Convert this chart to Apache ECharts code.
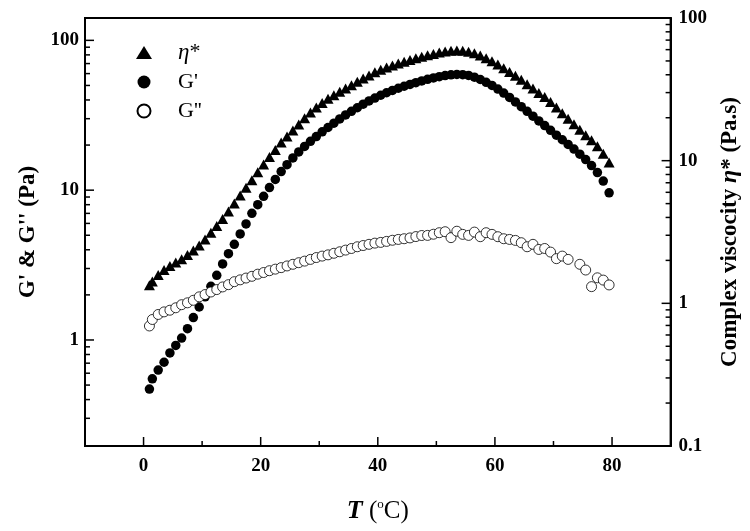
<!DOCTYPE html>
<html>
<head>
<meta charset="utf-8">
<script src="https://cdn.jsdelivr.net/npm/echarts@6/dist/echarts.min.js"></script>
<style>html,body{margin:0;padding:0;background:#fff}#c{width:750px;height:531px}</style>
</head>
<body>
<div id="c"></div>
<script>
// ---------- data ----------
const temperature = [1, 1.5, 2.5, 3.5, 4.5, 5.5, 6.5, 7.5, 8.5, 9.5,
  10.5, 11.5, 12.5, 13.5, 14.5, 15.5, 16.5, 17.5, 18.5, 19.5,
  20.5, 21.5, 22.5, 23.5, 24.5, 25.5, 26.5, 27.5, 28.5, 29.5,
  30.5, 31.5, 32.5, 33.5, 34.5, 35.5, 36.5, 37.5, 38.5, 39.5,
  40.5, 41.5, 42.5, 43.5, 44.5, 45.5, 46.5, 47.5, 48.5, 49.5,
  50.5, 51.5, 52.5, 53.5, 54.5, 55.5, 56.5, 57.5, 58.5, 59.5,
  60.5, 61.5, 62.5, 63.5, 64.5, 65.5, 66.5, 67.5, 68.5, 69.5,
  70.5, 71.5, 72.5, 73.5, 74.5, 75.5, 76.5, 77.5, 78.5, 79.5];

// complex viscosity eta* (Pa.s), right axis
const etaStar = [1.34, 1.42, 1.58, 1.71, 1.83, 1.93, 2.04, 2.18, 2.35, 2.54,
  2.80, 3.12, 3.49, 3.90, 4.40, 5.0, 5.7, 6.45, 7.3, 8.3,
  9.4, 10.6, 11.9, 13.4, 14.8, 16.3, 17.9, 19.8, 21.8, 23.6,
  25.4, 27.2, 28.8, 30.4, 32.0, 33.8, 35.7, 37.6, 39.6, 41.6,
  43.4, 45.0, 46.5, 48.0, 49.4, 50.8, 52.2, 53.5, 54.8, 56.0,
  57.2, 58.2, 58.9, 59.2, 58.9, 58.1, 56.6, 54.6, 52.3, 49.8,
  47.2, 44.5, 41.9, 39.4, 36.9, 34.3, 32.0, 29.8, 27.9, 25.8,
  23.6, 21.5, 19.7, 18.0, 16.5, 15.1, 13.9, 12.6, 11.2, 9.7];

// storage modulus G' (Pa), left axis
const gPrime = [0.47, 0.55, 0.63, 0.71, 0.82, 0.92, 1.03, 1.19, 1.41, 1.66,
  1.94, 2.28, 2.70, 3.22, 3.77, 4.35, 5.1, 5.95, 7.0, 8.0,
  9.1, 10.4, 11.8, 13.3, 14.8, 16.4, 18.0, 19.6, 21.2, 22.8,
  24.5, 26.2, 28.0, 29.9, 31.8, 33.6, 35.5, 37.5, 39.4, 41.2,
  43.0, 44.7, 46.3, 47.9, 49.4, 50.8, 52.2, 53.6, 54.9, 56.1,
  57.2, 58.2, 58.9, 59.2, 59.0, 58.3, 56.8, 54.8, 52.5, 50.0,
  47.3, 44.5, 41.6, 38.8, 36.1, 33.6, 31.2, 29.0, 27.0, 25.1,
  23.3, 21.7, 20.2, 18.8, 17.4, 16.0, 14.6, 13.1, 11.5, 9.6];

// loss modulus G'' (Pa), left axis (null = no point)
const gDoublePrime = [1.24, 1.37, 1.48, 1.54, 1.58, 1.64, 1.72, 1.77, 1.84, 1.94,
  2.01, 2.09, 2.17, 2.26, 2.34, 2.45, 2.52, 2.59, 2.66, 2.75,
  2.82, 2.90, 2.97, 3.04, 3.12, 3.20, 3.28, 3.36, 3.45, 3.55,
  3.63, 3.70, 3.79, 3.88, 3.98, 4.08, 4.19, 4.27, 4.35, 4.43,
  4.48, 4.55, 4.63, 4.69, 4.74, 4.80, 4.90, 4.98, 4.99, 5.08,
  5.20, 5.28, 4.82, 5.32, 5.07, 4.99, 5.25, 4.89, 5.20, 5.07,
  4.89, 4.74, 4.69, 4.62, 4.46, 4.19, 4.35, 4.02, 4.08, 3.86,
  3.49, 3.63, 3.45, null, 3.20, 2.93, 2.27, 2.60, 2.51, 2.33];

// tick values
const xMajorTicks = [0, 20, 40, 60, 80];
const xMinorTicks = [10, 30, 50, 70];
const leftMajorTicks = [1, 10, 100];
const leftMinorTicks = [0.3, 0.4, 0.5, 0.6, 0.7, 0.8, 0.9, 2, 3, 4, 5, 6, 7, 8, 9, 20, 30, 40, 50, 60, 70, 80, 90];
const rightMajorTicks = [1, 10];
const rightMinorTicks = [0.2, 0.3, 0.4, 0.5, 0.6, 0.7, 0.8, 0.9, 2, 3, 4, 5, 6, 7, 8, 9, 20, 30, 40, 50, 60, 70, 80, 90];
const leftLabels = [1, 10, 100];

// axis ranges
const X_MIN = -10, X_MAX = 90;
const L_MIN = 0.196, L_MAX = 141;
const R_MIN = 0.1, R_MAX = 100;

const FONT = "'Liberation Serif', 'Times New Roman', serif";

function pairs(xs, ys) {
  const out = [];
  xs.forEach((x, i) => { if (ys[i] != null) out.push([x, ys[i]]); });
  return out;
}

function tickSeries(points, yAxisIndex, dx, dy) {
  return {
    type: 'custom', xAxisIndex: 0, yAxisIndex: yAxisIndex, silent: true, clip: false,
    z: 5, data: points,
    renderItem: function (params, api) {
      const p = api.coord([api.value(0), api.value(1)]);
      return { type: 'line', shape: { x1: p[0], y1: p[1], x2: p[0] + dx, y2: p[1] + dy },
        style: { stroke: '#000', lineWidth: 1.5 } };
    }
  };
}

const chart = echarts.init(document.getElementById('c'), null, { renderer: 'canvas' });
const boldLabel = { fontFamily: FONT, fontWeight: 'bold', fontSize: 19, color: '#000' };

chart.setOption({
  backgroundColor: '#fff',
  animation: false,
  grid: { left: 85, right: 78, top: 18, bottom: 85, show: true, borderColor: '#000', borderWidth: 2, backgroundColor: 'transparent' },
  legend: {
    data: ['η*', "G'", "G''"],
    orient: 'vertical', left: 131, top: 36, itemWidth: 16, itemHeight: 13, itemGap: 7,
    selectedMode: false,
    formatter: function (n) { return n === 'η*' ? '{i|η}{n|*}' : '{n|' + n + '}'; },
    textStyle: {
      fontFamily: FONT, fontSize: 22, color: '#000', padding: [0, 0, 0, 21],
      rich: {
        i: { fontFamily: FONT, fontSize: 23, fontStyle: 'italic', color: '#000' },
        n: { fontFamily: FONT, fontSize: 22, color: '#000' }
      }
    }
  },
  xAxis: [{
    type: 'value', min: X_MIN, max: X_MAX, interval: 10,
    axisLine: { show: true, onZero: false, lineStyle: { color: '#000', width: 2 } },
    axisTick: { show: false }, splitLine: { show: false },
    axisLabel: Object.assign({ margin: 11, formatter: function (v) { return (v >= 0 && v <= 80 && v % 20 === 0) ? String(v) : ''; } }, boldLabel),
    name: '{it|T}{n| (}{sup|o}{n|C)}', nameLocation: 'middle', nameGap: 52,
    nameTextStyle: {
      fontFamily: FONT, color: '#000',
      rich: {
        it: { fontFamily: FONT, fontSize: 26, fontWeight: 'bold', fontStyle: 'italic', color: '#000' },
        n: { fontFamily: FONT, fontSize: 25, color: '#000' },
        sup: { fontFamily: FONT, fontSize: 13, color: '#000', verticalAlign: 'top', padding: [0, 0, 12, 0] }
      }
    }
  }],
  yAxis: [{
    type: 'log', logBase: 10, min: L_MIN, max: L_MAX, position: 'left',
    axisLine: { show: true, onZero: false, lineStyle: { color: '#000', width: 2 } },
    axisTick: { show: false }, splitLine: { show: false }, minorTick: { show: false },
    axisLabel: Object.assign({ margin: 6, formatter: function (v) {
      for (const l of leftLabels) { if (Math.abs(v - l) / l < 1e-6) return String(l); }
      return '';
    } }, boldLabel),
    name: "G' & G'' (Pa)", nameLocation: 'middle', nameGap: 42, nameRotate: 90,
    nameTextStyle: { fontFamily: FONT, fontWeight: 'bold', fontSize: 23, color: '#000' }
  }, {
    type: 'log', logBase: 10, min: R_MIN, max: R_MAX, position: 'right',
    axisLine: { show: true, onZero: false, lineStyle: { color: '#000', width: 2 } },
    axisTick: { show: false }, splitLine: { show: false },
    axisLabel: Object.assign({ margin: 8, formatter: function (v) {
      if (Math.abs(v - 0.1) < 1e-6) return '0.1';
      return String(Math.round(v));
    } }, boldLabel),
    name: '{b|Complex viscocity }{i|η}{b|* (Pa.s)}', nameLocation: 'middle', nameGap: 36, nameRotate: 90,
    nameTextStyle: {
      fontFamily: FONT, color: '#000',
      rich: {
        b: { fontFamily: FONT, fontWeight: 'bold', fontSize: 23, color: '#000' },
        i: { fontFamily: FONT, fontWeight: 'bold', fontStyle: 'italic', fontSize: 24, color: '#000' }
      }
    }
  }],
  series: [
    { name: 'η*', type: 'scatter', yAxisIndex: 1, symbol: 'triangle', symbolSize: [11, 10],
      itemStyle: { color: '#000', opacity: 1 }, data: pairs(temperature, etaStar), z: 3 },
    { name: "G'", type: 'scatter', yAxisIndex: 0, symbol: 'circle', symbolSize: 9.5,
      itemStyle: { color: '#000', opacity: 1 }, data: pairs(temperature, gPrime), z: 3 },
    { name: "G''", type: 'scatter', yAxisIndex: 0, symbol: 'circle', symbolSize: 10,
      itemStyle: { color: '#fff', borderColor: '#000', borderWidth: 0.8, opacity: 1 }, data: pairs(temperature, gDoublePrime), z: 3 },
    tickSeries(xMajorTicks.map(v => [v, L_MIN]), 0, 0, -9),
    tickSeries(xMinorTicks.map(v => [v, L_MIN]), 0, 0, -5),
    tickSeries(leftMajorTicks.map(v => [X_MIN, v]), 0, 9, 0),
    tickSeries(leftMinorTicks.map(v => [X_MIN, v]), 0, 5, 0),
    tickSeries(rightMajorTicks.map(v => [X_MAX, v]), 1, -9, 0),
    tickSeries(rightMinorTicks.map(v => [X_MAX, v]), 1, -5, 0)
  ]
});
</script>
</body>
</html>
